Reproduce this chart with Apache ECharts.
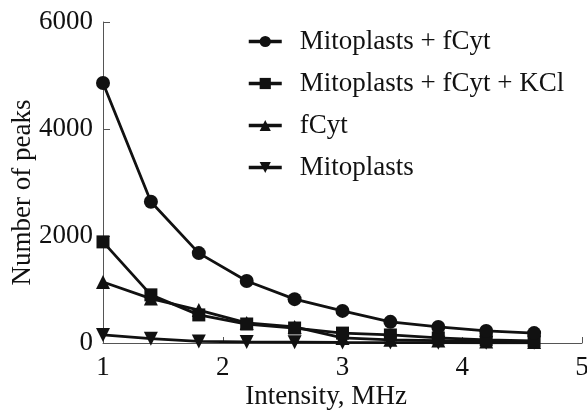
<!DOCTYPE html>
<html>
<head>
<meta charset="utf-8">
<script src="https://cdn.jsdelivr.net/npm/echarts@6/dist/echarts.min.js"></script>
<style>html,body{margin:0;padding:0;background:#fff}#c{width:587px;height:411px}</style>
</head>
<body>
<div id="c"></div>
<script>
const intensity = [1.0, 1.4, 1.8, 2.2, 2.6, 3.0, 3.4, 3.8, 4.2, 4.6];
const mitoFCyt = [4860, 2640, 1680, 1160, 820, 600, 395, 300, 225, 185];
const mitoFCytKCl = [1890, 900, 525, 355, 280, 185, 150, 95, 60, 40];
const fCyt = [1140, 830, 615, 375, 300, 95, 60, 45, 30, 20];
const mitoplasts = [150, 80, 30, 20, 15, 10, 8, 6, 5, 4];
const seriesNames = ['Mitoplasts + fCyt', 'Mitoplasts + fCyt + KCl', 'fCyt', 'Mitoplasts'];
const xTicks = [1, 2, 3, 4, 5];
const yTicks = [0, 2000, 4000, 6000];

const font = 'Liberation Serif, Times New Roman, serif';
const fs = 27;
function pairs(vals){ return intensity.map((x,i)=>[x, vals[i]]); }
function mk(name, vals, symbol, size, rot){
  return {
    name, type:'line', data: pairs(vals), symbol, symbolSize: size, symbolRotate: rot||0,
    showAllSymbol: true,
    lineStyle:{color:'#111', width:2.8}, itemStyle:{color:'#111'}, emphasis:{disabled:true},
    animation:false
  };
}
const chart = echarts.init(document.getElementById('c'));
chart.setOption({
  animation:false,
  grid:{left:103, right:5, top:22, bottom:68, containLabel:false, outerBoundsMode:'none'},
  legend:{
    orient:'vertical', left:242, top:23, itemWidth:33, itemHeight:14, itemGap:15,
    lineStyle:{width:3.5},
    textStyle:{fontFamily:font, fontSize:fs, color:'#111', padding:[0,0,0,13]},
    data: seriesNames
  },
  xAxis:{
    type:'value', min:xTicks[0], max:xTicks[xTicks.length-1], interval:1,
    name:'Intensity, MHz', nameLocation:'middle', nameGap:40, nameMoveOverlap:false,
    nameTextStyle:{fontFamily:font, fontSize:fs, color:'#111', padding:[0,33,0,0]},
    axisLine:{lineStyle:{color:'#555', width:1}},
    axisTick:{inside:true, length:6, lineStyle:{color:'#555'}},
    axisLabel:{fontFamily:font, fontSize:fs, color:'#111', margin:11},
    splitLine:{show:false}
  },
  yAxis:{
    type:'value', min:yTicks[0], max:yTicks[yTicks.length-1], interval:2000,
    name:'Number of peaks', nameLocation:'middle', nameGap:67, nameMoveOverlap:false,
    nameTextStyle:{fontFamily:font, fontSize:fs, color:'#111', padding:[0,20,0,0]},
    axisLine:{show:true, lineStyle:{color:'#555', width:1}},
    axisTick:{show:true, inside:true, length:7, lineStyle:{color:'#555'}},
    axisLabel:{fontFamily:font, fontSize:fs, color:'#111', margin:10, formatter: v => String(v)},
    splitLine:{show:false}
  },
  series:[
    mk(seriesNames[3], mitoplasts, 'triangle', 14, 180),
    mk(seriesNames[2], fCyt, 'triangle', 14),
    mk(seriesNames[1], mitoFCytKCl, 'rect', 13),
    mk(seriesNames[0], mitoFCyt, 'circle', 14)
  ]
});
</script>
</body>
</html>
